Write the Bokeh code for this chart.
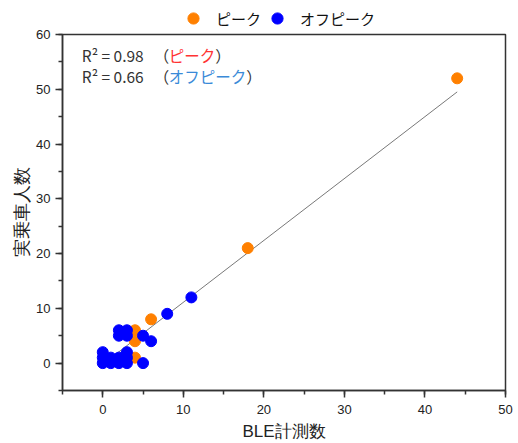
from bokeh.plotting import figure
from bokeh.models import (Legend, LegendItem, Label, SingleIntervalTicker, Range1d)
from bokeh.layouts import column
from bokeh.embed import file_html
from bokeh.resources import INLINE

# ---- data ----
peak_x = [44, 18, 6, 4, 4, 4]
peak_y = [52, 21, 8, 6, 4, 1]
off_x = [11, 8, 2, 3, 2, 3, 5, 6, 0, 1, 3, 0, 0, 1, 2, 3, 3, 5, 2]
off_y = [12, 9, 6, 6, 5, 5, 5, 4, 2, 1, 2, 1, 0, 0, 0, 0, 1, 0, 1]
fit_slope = 1.13
fit_intercept = -0.2
fit_x = [0, 44]
fit_y = [fit_slope * v + fit_intercept for v in fit_x]
series_names = ["ピーク", "オフピーク"]
r2_values = ["0.98", "0.66"]
x_label = "BLE計測数"
y_label = "実乗車人数"

JP = "Noto Sans CJK JP"
ORANGE = "#ff8000"
BLUE = "#0000ff"
series_colors = [ORANGE, BLUE]

# ---- main plot ----
p = figure(width=518, height=417, output_backend="svg",
           toolbar_location=None,
           x_range=Range1d(-5, 50), y_range=Range1d(-5, 60),
           min_border_left=62, min_border_right=13, min_border_top=8,
           min_border_bottom=53)
p.grid.visible = False
p.outline_line_color = "#333333"
p.outline_line_width = 1.5
p.background_fill_color = "white"
p.border_fill_color = "white"

for ax in (p.xaxis[0], p.yaxis[0]):
    ax.ticker = SingleIntervalTicker(interval=10, num_minor_ticks=2)
    ax.axis_line_color = "#333333"
    ax.axis_line_width = 1.5
    ax.major_tick_line_color = "#333333"
    ax.minor_tick_line_color = "#333333"
    ax.major_tick_line_width = 1.5
    ax.minor_tick_line_width = 1.5
    ax.major_tick_out = 7
    ax.major_tick_in = 0
    ax.minor_tick_out = 4
    ax.minor_tick_in = 0
    ax.major_label_text_font = "Liberation Sans"
    ax.major_label_text_font_size = "13px"
    ax.major_label_text_color = "#222222"
    ax.axis_label_text_font = "Liberation Sans"
    ax.axis_label_text_font_style = "normal"
    ax.axis_label_text_color = "#222222"

p.xaxis.axis_label = x_label
p.yaxis.axis_label = y_label
p.xaxis.axis_label_text_font_size = "17px"
p.yaxis.axis_label_text_font_size = "18px"
p.xaxis.major_label_standoff = 7
p.xaxis.axis_label_standoff = 5
p.yaxis.major_label_standoff = 5
p.yaxis.axis_label_standoff = 1

p.line(fit_x, fit_y, line_color="#555555", line_width=0.8)
p.scatter(peak_x, peak_y, size=11, fill_color=ORANGE, line_color=ORANGE)
p.scatter(off_x, off_y, size=11, fill_color=BLUE, line_color=BLUE)

# annotations (data units: x=(px-102)/8.06, y=(362-py)/5.47)
def sx(px):
    return (px - 102) / 8.06

def sy(py):
    return (362 - py) / 5.47

lines_y = [54.5, 75.5]
colors = ["#ff3333", "#3a8ad8"]
name_widths = [46.5, 77.5]
for i in range(2):
    yy = sy(lines_y[i])
    parts = [("R² = " + r2_values[i], 81, "#333333"),
             ("（", 153, "#333333"),
             (series_names[i], 168, colors[i]),
             ("）", 168 + name_widths[i], "#333333")]
    for txt, px, col in parts:
        p.add_layout(Label(x=sx(px), y=yy, text=txt, text_font=JP,
                           text_font_size="15.5px", text_color=col,
                           text_baseline="middle", text_align="left"))

# ---- legend strip above the plot (series drawn out of view, legend only) ----
lg = figure(width=518, height=26, output_backend="svg", toolbar_location=None,
            x_axis_location=None, y_axis_location=None,
            x_range=Range1d(1000, 1001), y_range=Range1d(1000, 1001),
            min_border_left=0, min_border_right=0, min_border_top=0,
            min_border_bottom=0)
lg.grid.visible = False
lg.outline_line_color = None
items = []
for name, col, xs, ys in zip(series_names, series_colors,
                             [peak_x, off_x], [peak_y, off_y]):
    r = lg.scatter(xs, ys, size=11, fill_color=col, line_color=col)
    items.append(LegendItem(label=name, renderers=[r]))
legend = Legend(items=items, orientation="horizontal", location=(117, -6),
                glyph_width=28, glyph_height=28, label_standoff=9, spacing=2,
                padding=0, margin=0, border_line_color=None,
                background_fill_alpha=0,
                label_text_font=JP, label_text_font_size="15px",
                label_text_color="#111111")
lg.add_layout(legend, "center")

layout = column(lg, p, spacing=0)
open("out.html", "w").write(file_html(layout, INLINE))
